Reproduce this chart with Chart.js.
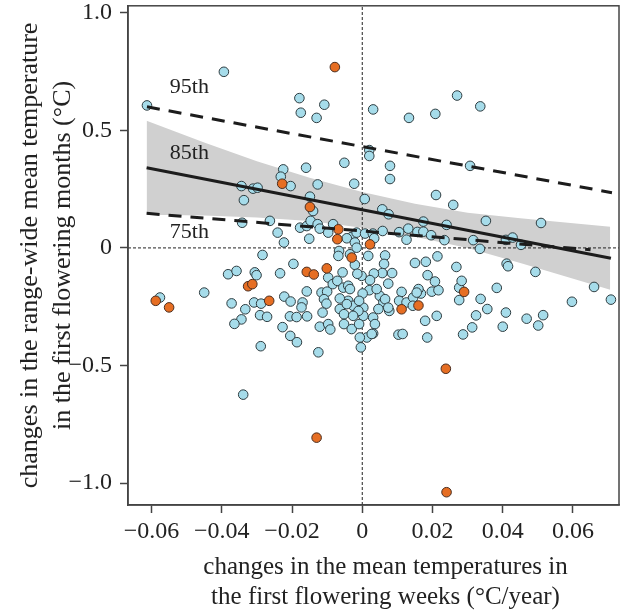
<!DOCTYPE html>
<html><head><meta charset="utf-8">
<script src="https://cdn.jsdelivr.net/npm/chart.js@4.4.1/dist/chart.umd.min.js"></script>
<style>html,body{margin:0;padding:0;background:#fff}#wrap{width:630px;height:611px}</style>
</head><body><div id="wrap"><canvas id="c" width="630" height="611"></canvas></div>
<script>
const xRange = [-0.0667, 0.0731];
const yRange = [-1.0934, 1.0297];
const xTickValues = [-0.06, -0.04, -0.02, 0, 0.02, 0.04, 0.06];
const yTickValues = [-1.0, -0.5, 0, 0.5, 1.0];

const blueX = [-0.0394,-0.0613,-0.0179,-0.0108,-0.0175,-0.0130,0.0031,0.0133,0.0208,0.0270,0.0336,0.0020,0.0020,
-0.0225,-0.0232,-0.0160,-0.0051,-0.0204,-0.0344,-0.0311,-0.0298,-0.0337,-0.0127,-0.0023,-0.0149,-0.0140,0.0007,0.0079,0.0079,0.0307,0.0210,0.0259,0.0057,0.0075,
-0.0342,-0.0263,-0.0241,-0.0223,-0.0177,-0.0158,-0.0147,-0.0127,-0.0121,-0.0151,-0.0083,-0.0097,-0.0030,-0.0016,-0.0044,-0.0021,0.0008,0.0030,0.0058,0.0034,
0.0105,0.0131,0.0157,0.0174,0.0174,0.0196,0.0240,0.0352,0.0509,0.0126,0.0234,0.0316,0.0409,0.0428,0.0452,0.0335,-0.0066,-0.0016,
0.0017,0.0065,0.0062,0.0150,0.0181,0.0214,0.0268,0.0411,0.0415,0.0493,0.0660,0.0708,0.0597,0.0515,0.0501,0.0468,0.0409,0.0400,
0.0383,0.0337,0.0356,0.0324,0.0313,0.0287,0.0276,0.0283,0.0276,0.0212,0.0179,0.0185,0.0198,0.0217,0.0207,0.0186,0.0167,0.0145,
0.0112,0.0105,0.0126,0.0103,0.0115,0.0085,0.0057,0.0074,0.0033,0.0022,-0.0002,0.0020,0.0001,0.0050,0.0060,0.0046,0.0003,0.0003,
0.0031,0.0036,0.0031,0.0013,-0.0004,0.0077,0.0160,0.0145,0.0144,
-0.0284,-0.0196,-0.0382,-0.0358,-0.0306,-0.0301,-0.0234,-0.0097,-0.0056,-0.0068,-0.0035,-0.0021,-0.0014,-0.0450,-0.0576,-0.0372,
-0.0333,-0.0344,-0.0364,-0.0308,-0.0288,-0.0291,-0.0271,-0.0289,-0.0222,-0.0204,-0.0158,-0.0170,-0.0173,-0.0206,-0.0187,-0.0157,
-0.0227,-0.0205,-0.0186,-0.0125,-0.0116,-0.0100,-0.0109,-0.0102,-0.0113,-0.0121,-0.0097,-0.0091,-0.0084,-0.0071,-0.0054,-0.0040,
-0.0035,-0.0064,-0.0052,-0.0040,-0.0026,-0.0011,-0.0052,-0.0030,-0.0009,-0.0007,-0.0064,-0.0009,-0.0026,0.0041,0.0065,0.0155,
0.0074,-0.0044,0.0027,-0.0339];
const blueY = [0.749,0.606,0.637,0.609,0.575,0.553,0.589,0.553,0.570,0.648,0.602,0.416,0.391,
0.334,0.303,0.341,0.362,0.263,0.263,0.252,0.256,0.203,0.270,0.273,0.218,0.157,0.208,0.349,0.293,0.349,0.225,0.183,0.164,0.143,
0.107,0.115,0.065,0.023,0.086,0.093,0.115,0.101,0.082,0.039,0.101,0.065,0.047,0.065,0.041,0.023,0.061,0.061,0.072,0.041,
0.067,0.082,0.068,0.112,0.069,0.054,0.098,0.115,0.106,0.035,0.033,0.033,0.034,0.044,0.013,-0.004,-0.013,0.001,
-0.034,-0.032,-0.068,-0.064,-0.059,-0.036,-0.081,-0.067,-0.078,-0.102,-0.166,-0.220,-0.229,-0.286,-0.330,-0.301,-0.275,-0.335,
-0.170,-0.217,-0.260,-0.287,-0.338,-0.368,-0.169,-0.140,-0.222,-0.289,-0.310,-0.381,-0.186,-0.180,-0.143,-0.116,-0.194,-0.239,
-0.187,-0.225,-0.232,-0.369,-0.366,-0.107,-0.107,-0.152,-0.109,-0.137,-0.119,-0.180,-0.194,-0.204,-0.232,-0.260,-0.254,-0.289,
-0.296,-0.324,-0.364,-0.381,-0.423,-0.268,-0.175,-0.211,-0.246,
-0.030,-0.068,-0.112,-0.098,-0.104,-0.116,-0.108,-0.126,-0.104,-0.034,-0.027,-0.072,-0.110,-0.190,-0.211,-0.236,
-0.261,-0.304,-0.323,-0.232,-0.237,-0.286,-0.293,-0.418,-0.207,-0.228,-0.185,-0.232,-0.253,-0.291,-0.294,-0.291,
-0.337,-0.374,-0.401,-0.444,-0.190,-0.186,-0.218,-0.237,-0.275,-0.335,-0.324,-0.347,-0.154,-0.140,-0.169,-0.161,
-0.175,-0.260,-0.282,-0.225,-0.246,-0.268,-0.324,-0.345,-0.324,-0.381,-0.215,-0.225,-0.289,-0.175,-0.218,-0.190,
-0.254,-0.239,-0.366,-0.624];

const orangeX = [-0.0078,-0.0228,-0.0149,-0.0068,-0.0071,0.0022,-0.0030,-0.0158,-0.0138,-0.0101,-0.0325,-0.0313,-0.0265,-0.0588,-0.0550,0.0112,0.0160,0.0290,0.0238,-0.0130,0.0240];
const orangeY = [0.769,0.273,0.174,0.079,0.037,0.015,-0.041,-0.102,-0.113,-0.087,-0.163,-0.154,-0.225,-0.225,-0.253,-0.261,-0.245,-0.187,-0.514,-0.807,-1.039];

const line95X = [-0.0613, 0.0711], line95Y = [0.600, 0.235];
const line85X = [-0.0614, 0.0708], line85Y = [0.341, -0.044];
const line75X = [-0.0614, 0.0650], line75Y = [0.147, -0.008];

const bandX = [-0.0614, -0.045, -0.03, -0.015, 0, 0.015, 0.03, 0.045, 0.0706];
const bandUpper = [0.541, 0.448, 0.369, 0.298, 0.238, 0.188, 0.150, 0.126, 0.090];
const bandLower = [0.141, 0.138, 0.129, 0.114, 0.086, 0.048, 0.000, -0.064, -0.178];

const lineLabels = ['95th', '85th', '75th'];
const labelX = [-0.0548, -0.0548, -0.0548];
const labelY = [0.682, 0.403, 0.066];

const xTitle = ['changes in the mean temperatures in', 'the first flowering weeks (\u00B0C/year)'];
const yTitle = ['changes in the range-wide mean temperature', 'in the first flowering months (\u00B0C)'];

const SERIF = '"Liberation Serif", "DejaVu Serif", serif';
const pts = (xs, ys) => xs.map((x, i) => ({x, y: ys[i]}));

const framePlugin = {
  id: 'frame',
  afterDatasetsDraw(chart) {
    const {ctx, scales} = chart;
    ctx.save();
    ctx.font = '22px ' + SERIF;
    ctx.fillStyle = '#222';
    ctx.textAlign = 'left';
    ctx.textBaseline = 'middle';
    lineLabels.forEach((t, i) => {
      ctx.fillText(t, scales.x.getPixelForValue(labelX[i]), scales.y.getPixelForValue(labelY[i]));
    });
    ctx.restore();
  },
  afterDraw(chart) {
    const {ctx, chartArea: a} = chart;
    ctx.save();
    ctx.strokeStyle = '#444';
    ctx.lineWidth = 1.5;
    ctx.strokeRect(a.left, a.top, a.right - a.left, a.bottom - a.top);
    // x-axis title (two lines), centred slightly right of the plot centre as in the figure
    ctx.font = '25px ' + SERIF;
    ctx.fillStyle = '#222';
    ctx.textAlign = 'center';
    ctx.textBaseline = 'middle';
    const cx = (a.left + a.right) / 2 + 12;
    xTitle.forEach((t, i) => ctx.fillText(t, cx, a.bottom + 62 + i * 30));
    ctx.restore();
  }
};

const lineDs = (xs, ys, dash, order) => ({
  data: pts(xs, ys), showLine: true, pointRadius: 0, borderColor: '#1c1c1c',
  borderWidth: 3, borderDash: dash, fill: false, order
});

new Chart(document.getElementById('c'), {
  type: 'scatter',
  data: {
    datasets: [
      {data: pts(bandX, bandUpper), showLine: true, pointRadius: 0, borderWidth: 0, borderColor: 'rgba(0,0,0,0)',
       backgroundColor: '#d0d0d0', fill: '+1', order: 20},
      {data: pts(bandX, bandLower), showLine: true, pointRadius: 0, borderWidth: 0, borderColor: 'rgba(0,0,0,0)',
       fill: false, order: 19},
      {data: [{x: 0, y: yRange[0]}, {x: 0, y: yRange[1]}], showLine: true, pointRadius: 0,
       borderColor: '#222', borderWidth: 1, borderDash: [3, 2], order: 15},
      {data: [{x: xRange[0], y: 0}, {x: xRange[1], y: 0}], showLine: true, pointRadius: 0,
       borderColor: '#222', borderWidth: 1, borderDash: [3, 2], order: 14},
      {data: pts(blueX, blueY), pointRadius: 4.8, pointHoverRadius: 4.8, pointBackgroundColor: '#a6dcea',
       pointBorderColor: '#2e3c40', pointBorderWidth: 1, order: 6},
      {data: pts(orangeX, orangeY), pointRadius: 4.8, pointHoverRadius: 4.8, pointBackgroundColor: '#e66e23',
       pointBorderColor: '#4a2e20', pointBorderWidth: 1, order: 5},
      lineDs(line95X, line95Y, [13, 9], 2),
      lineDs(line85X, line85Y, [], 1),
      lineDs(line75X, line75Y, [13, 9], 3)
    ]
  },
  options: {
    responsive: false, animation: false, events: [],
    layout: {padding: {top: 5, right: 11, left: 0, bottom: 0}},
    plugins: {legend: {display: false}, tooltip: {enabled: false}},
    scales: {
      x: {
        type: 'linear', min: xRange[0], max: xRange[1],
        afterBuildTicks: s => { s.ticks = xTickValues.map(v => ({value: v})); },
        afterFit: s => { s.height = 106; s.paddingLeft = 0; s.paddingRight = 0; },
        ticks: {font: {family: SERIF, size: 24}, color: '#222', padding: 4, maxRotation: 0, autoSkip: false,
          callback: v => v === 0 ? '0' : v.toFixed(2).replace('-', '\u2212')},
        grid: {drawOnChartArea: false, drawTicks: true, tickLength: 8, tickColor: '#444', tickWidth: 1.5},
        border: {display: true, color: '#444', width: 1.5},
        title: {display: false}
      },
      y: {
        type: 'linear', min: yRange[0], max: yRange[1],
        afterBuildTicks: s => { s.ticks = yTickValues.map(v => ({value: v})); },
        afterFit: s => { s.width = 128; s.paddingTop = 0; s.paddingBottom = 0; },
        ticks: {font: {family: SERIF, size: 24}, color: '#222', padding: 8, autoSkip: false,
          callback: v => v === 0 ? '0' : v.toFixed(1).replace('-', '\u2212')},
        grid: {drawOnChartArea: false, drawTicks: true, tickLength: 8, tickColor: '#444', tickWidth: 1.5},
        border: {display: true, color: '#444', width: 1.5},
        title: {display: true, text: yTitle, color: '#222', font: {family: SERIF, size: 26, lineHeight: 1.25},
          padding: {top: 14, bottom: 0}}
      }
    }
  },
  plugins: [framePlugin]
});
</script></body></html>
